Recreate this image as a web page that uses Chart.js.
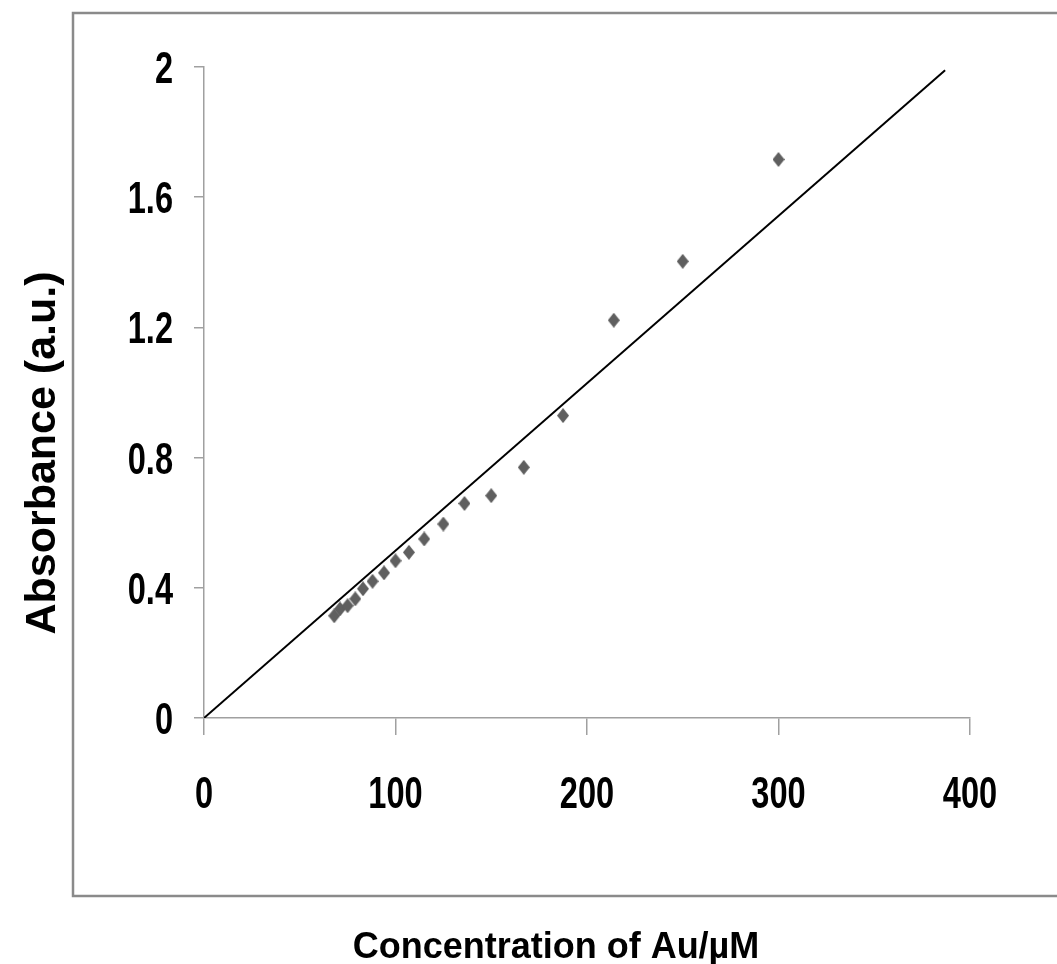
<!DOCTYPE html>
<html>
<head>
<meta charset="utf-8">
<script src="https://cdn.jsdelivr.net/npm/chart.js@4.4.0/dist/chart.umd.min.js"></script>
<style>
  html, body { margin: 0; padding: 0; background: #fff; }
  #wrap { position: relative; width: 1057px; height: 964px; }
</style>
</head>
<body>
<div id="wrap"><canvas id="chart" width="1057" height="964"></canvas></div>
<script>
// measured Au concentration (µM) and absorbance
const concentration = [68, 71, 75, 79, 83, 88, 94, 100, 107, 115, 125, 136, 150, 167, 187.5, 214, 250, 300];
const absorbance = [0.314, 0.335, 0.345, 0.366, 0.397, 0.420, 0.446, 0.483, 0.509, 0.550, 0.596, 0.659, 0.683, 0.770, 0.929, 1.222, 1.403, 1.716];

// linear trendline through the origin
const trendX = [0, 387];
const trendY = [0, 1.99];

// axis ticks
const xTicks = [0, 100, 200, 300, 400];
const yTicks = [0, 0.4, 0.8, 1.2, 1.6, 2];

const xTitle = 'Concentration of Au/\u00b5M';
const yTitle = 'Absorbance (a.u.)';

const axisGray = '#a0a0a0';

// diamond marker, a little taller than wide
function makeDiamond(w, h, color) {
  const c = document.createElement('canvas');
  c.width = w; c.height = h;
  const g = c.getContext('2d');
  g.fillStyle = color;
  g.beginPath();
  g.moveTo(w / 2, 0);
  g.lineTo(w, h / 2);
  g.lineTo(w / 2, h);
  g.lineTo(0, h / 2);
  g.closePath();
  g.fill();
  return c;
}
const diamond = makeDiamond(12, 15, '#5f5f5f');

// narrow bold tick numbers, placed on the chart's own scales
function narrowText(ctx, text, x, y, align) {
  const sx = 0.74;
  ctx.save();
  ctx.translate(x, y);
  ctx.scale(sx, 1);
  ctx.textAlign = align;
  ctx.fillText(text, 0, 0);
  ctx.restore();
}

// outer frame, tick numbers and axis titles
const framePlugin = {
  id: 'frame',
  beforeDraw(chart) {
    const ctx = chart.ctx;
    ctx.save();
    ctx.fillStyle = '#fff';
    ctx.fillRect(0, 0, chart.width, chart.height);
    ctx.strokeStyle = '#8a8a8a';
    ctx.lineWidth = 2.5;
    ctx.strokeRect(73, 13, 1010, 883);
    ctx.restore();
  },
  afterDraw(chart) {
    const ctx = chart.ctx;
    const xs = chart.scales.x, ys = chart.scales.y;
    ctx.save();
    ctx.fillStyle = '#000';
    ctx.textBaseline = 'alphabetic';
    ctx.font = 'bold 44px "Liberation Sans", Arial, sans-serif';
    xTicks.forEach(v => {
      narrowText(ctx, String(v), xs.getPixelForValue(v), ys.bottom + 90, 'center');
    });
    yTicks.forEach(v => {
      narrowText(ctx, String(v), xs.left - 31, ys.getPixelForValue(v) + 16, 'right');
    });

    ctx.textAlign = 'center';
    ctx.font = 'bold 36px "Liberation Sans", Arial, sans-serif';
    ctx.fillText(xTitle, 556, 958);
    ctx.translate(55, 453);
    ctx.rotate(-Math.PI / 2);
    ctx.font = 'bold 43px "Liberation Sans", Arial, sans-serif';
    ctx.fillText(yTitle, 0, 0);
    ctx.restore();
  }
};

new Chart(document.getElementById('chart'), {
  type: 'scatter',
  data: {
    datasets: [
      {
        label: 'Absorbance',
        data: concentration.map((x, i) => ({ x: x, y: absorbance[i] })),
        pointStyle: diamond,
        pointRadius: 7
      },
      {
        label: 'Linear fit',
        data: trendX.map((x, i) => ({ x: x, y: trendY[i] })),
        showLine: true,
        borderColor: '#000',
        borderWidth: 2,
        pointRadius: 0
      }
    ]
  },
  options: {
    responsive: false,
    animation: false,
    devicePixelRatio: 1,
    layout: { padding: { top: 67, right: 87, bottom: 0, left: 0 } },
    plugins: { legend: { display: false }, tooltip: { enabled: false } },
    scales: {
      x: {
        type: 'linear',
        position: 'bottom',
        min: 0,
        max: 400,
        afterBuildTicks: s => { s.ticks = xTicks.map(v => ({ value: v })); },
        afterFit: s => { s.height = 964 - 718; },
        grid: { drawOnChartArea: false, drawTicks: true, tickLength: 17, color: axisGray, lineWidth: 1.5 },
        border: { display: true, color: axisGray, width: 1.5 },
        ticks: { display: false }
      },
      y: {
        type: 'linear',
        position: 'left',
        min: 0,
        max: 2,
        afterBuildTicks: s => { s.ticks = yTicks.map(v => ({ value: v })); },
        afterFit: s => { s.width = 204; },
        grid: { drawOnChartArea: false, drawTicks: true, tickLength: 10, color: axisGray, lineWidth: 1.5 },
        border: { display: true, color: axisGray, width: 1.5 },
        ticks: { display: false }
      }
    }
  },
  plugins: [framePlugin]
});
</script>
</body>
</html>
